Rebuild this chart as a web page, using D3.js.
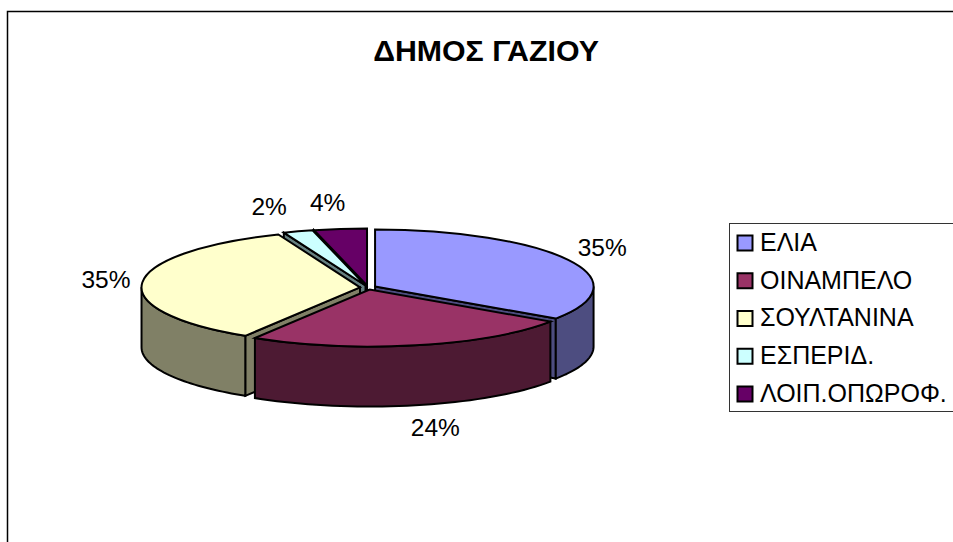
<!DOCTYPE html>
<html>
<head>
<meta charset="utf-8">
<script src="https://cdn.jsdelivr.net/npm/d3@7"></script>
<style>
  html, body { margin: 0; padding: 0; background: #fff; overflow: hidden; }
  text { font-family: "Liberation Sans", Arial, sans-serif; fill: #000; }
</style>
</head>
<body>
<svg id="chart" width="953" height="542"></svg>
<script>
const title = 'ΔΗΜΟΣ ΓΑΖΙΟΥ';
const categories = ['ΕΛΙΑ', 'ΟΙΝΑΜΠΕΛΟ', 'ΣΟΥΛΤΑΝΙΝΑ', 'ΕΣΠΕΡΙΔ.', 'ΛΟΙΠ.ΟΠΩΡΟΦ.'];
const values = [34.5, 24.3, 35.1, 2.2, 3.9];
const labels = ['35%', '24%', '35%', '2%', '4%'];
const colors = ['#9999ff', '#993366', '#ffffcc', '#ccffff', '#660066'];

const WIDTH = 953,
      HEIGHT = 542,
      CX = 368,
      CY = 287.5,
      RX = 218.5,
      RY = 57,
      DEPTH = 60,
      EXPLODE = 8,
      LABEL_RX = 265,
      LABEL_RY = 84;

// hand nudges for the labels, excel places them its own way
const labelNudge = [0, 12, 2, -17, -8];

const svg = d3.select('#chart');

// frame, only top and left fall inside the picture
svg.append('path')
   .attr('d', 'M7.5,' + HEIGHT + 'V11.5H' + WIDTH)
   .attr('fill', 'none')
   .attr('stroke', '#000')
   .attr('stroke-width', 1.5);

svg.append('text')
   .attr('x', 486)
   .attr('y', 61)
   .attr('text-anchor', 'middle')
   .attr('font-size', 30.3)
   .attr('font-weight', 'bold')
   .text(title);

const pie = d3.pie().sort(null).value(d => d.value);
const slices = pie(values.map((v, i) => ({value: v, i: i})));

const arc = d3.arc().innerRadius(0).outerRadius(RX);
const ratio = RY / RX;

// unit circle angle -> flat ellipse, relative to the slice apex
const px = (a, r) => Math.sin(a) * r;
const py = (a, r) => -Math.cos(a) * r * ratio;

const rimLine = d3.line().x(d => px(d, RX)).y(d => py(d, RX));

const wallPath = (a0, a1) => {
   const angles = d3.range(0, 41).map(i => a0 + (a1 - a0) * i / 40);
   const top = rimLine(angles);
   const bottom = d3.line().x(d => px(d, RX)).y(d => py(d, RX) + DEPTH)(angles.slice().reverse());
   return top + 'L' + bottom.slice(1) + 'Z';
};

const facePath = (a) => {
   const p = d3.path();
   p.moveTo(0, 0);
   p.lineTo(px(a, RX), py(a, RX));
   p.lineTo(px(a, RX), py(a, RX) + DEPTH);
   p.lineTo(0, DEPTH);
   p.closePath();
   return p.toString();
};

// back slices first, the front one goes last
const drawOrder = [4, 3, 0, 2, 1];

drawOrder.forEach(idx => {
   const s = slices[idx];
   const mid = (s.startAngle + s.endAngle) / 2;
   const x0 = CX + px(mid, EXPLODE);
   const y0 = CY + py(mid, EXPLODE);
   const side = d3.interpolateRgb(colors[idx], '#000')(0.5);

   const g = svg.append('g')
      .attr('transform', 'translate(' + x0 + ',' + y0 + ')');

   const shape = (d) => g.append('path')
      .attr('d', d)
      .attr('fill', side)
      .attr('stroke', '#000')
      .attr('stroke-width', 2)
      .attr('stroke-linejoin', 'miter');

   // cut faces that look toward the viewer
   if (Math.sin(s.startAngle) < -1e-6) shape(facePath(s.startAngle));
   if (Math.sin(s.endAngle) > 1e-6) shape(facePath(s.endAngle));

   // outer wall, only the front half of the rim shows
   const a0 = Math.max(s.startAngle, Math.PI / 2);
   const a1 = Math.min(s.endAngle, Math.PI * 1.5);
   if (a1 > a0) shape(wallPath(a0, a1));

   g.append('path')
      .attr('d', arc(s))
      .attr('transform', 'scale(1,' + ratio + ')')
      .attr('vector-effect', 'non-scaling-stroke')
      .attr('fill', colors[idx])
      .attr('stroke', '#000')
      .attr('stroke-width', 2);
});

// percent labels
slices.forEach((s, i) => {
   const mid = (s.startAngle + s.endAngle) / 2;
   const front = Math.cos(mid) < -0.5;
   svg.append('text')
      .attr('x', CX + Math.sin(mid) * LABEL_RX + labelNudge[i])
      .attr('y', CY - Math.cos(mid) * LABEL_RY + (front ? DEPTH - 1 : 0))
      .attr('dy', '0.3em')
      .attr('text-anchor', 'middle')
      .attr('font-size', 24.5)
      .text(labels[i]);
});

// legend
const legend = svg.append('g');

legend.append('rect')
   .attr('x', 729.5)
   .attr('y', 223.5)
   .attr('width', 240)
   .attr('height', 188)
   .attr('fill', '#fff')
   .attr('stroke', '#333')
   .attr('stroke-width', 1);

const rowY = d3.scalePoint().domain(categories).range([243, 394]);

categories.forEach((c, i) => {
   legend.append('rect')
      .attr('x', 737.5)
      .attr('y', rowY(c) - 7.5)
      .attr('width', 15)
      .attr('height', 15)
      .attr('fill', colors[i])
      .attr('stroke', '#000')
      .attr('stroke-width', 2);
   legend.append('text')
      .attr('x', 760)
      .attr('y', rowY(c))
      .attr('dy', '0.31em')
      .attr('font-size', 25)
      .text(c);
});
</script>
</body>
</html>
